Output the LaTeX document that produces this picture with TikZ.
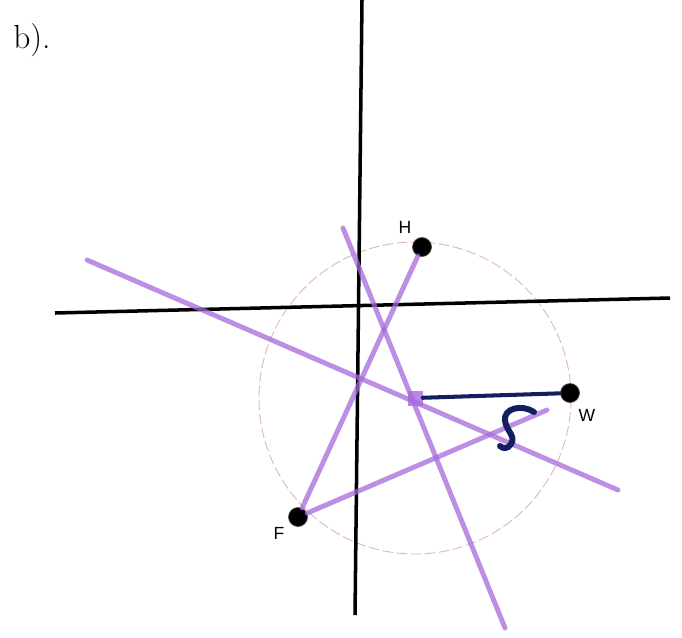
\documentclass[tikz,border=0pt]{standalone}
\usepackage{fontspec}
\setsansfont{Liberation Sans}
\definecolor{bisect}{RGB}{165,105,220}
\definecolor{marker}{RGB}{20,30,95}
\definecolor{pencil}{RGB}{225,180,180}
\begin{document}
\begin{tikzpicture}[x=0.02cm, y=-0.02cm,
          axis/.style={draw=black, line width=2pt},
          perp/.style={draw=bisect, line width=2.8pt, opacity=0.75, line cap=round},
          rad/.style={draw=marker, line width=2.3pt, line cap=round},
          pt/.style={circle, fill=black, draw=black!70, inner sep=0pt, minimum size=0.38cm},
          ctr/.style={rectangle, fill=bisect, opacity=0.8, inner sep=0pt, minimum size=0.3cm},
          lbl/.style={font=\sffamily\fontsize{10}{12}\selectfont, inner sep=1pt}]
        \useasboundingbox (0,0) rectangle (682,637);
        % faint pencil circle through H, W, F
        \draw[pencil, line width=0.5pt, dashed, dash pattern=on 6pt off 2pt] (415,398) circle (156);
        % axes
        \coordinate (yt) at (362,0);
        \coordinate (yb) at (355,615);
        \coordinate (xl) at (55,313);
        \coordinate (xr) at (670,298);
        \draw[axis] (yt) -- (yb);
        \draw[axis] (xl) -- (xr);
        % the three points and the centre
        \node[pt] (H) at (422,247) {};
        \node[pt] (W) at (570,393) {};
        \node[pt] (F) at (298,517) {};
        \node[ctr] (O) at (415,398) {};
        \node[lbl] (Hl) at (405,227) {H};
        \node[lbl] (Wl) at (587,415) {W};
        \node[lbl] (Fl) at (279,533) {F};
        % bisectors and chords
        \coordinate (a1) at (87,260);
        \coordinate (a2) at (618,490);
        \coordinate (b1) at (343,228);
        \coordinate (b2) at (505,628);
        \coordinate (c2) at (547,410);
        \draw[perp] (a1) -- (a2);
        \draw[perp] (b1) -- (b2);
        \draw[perp] (H) -- (F);
        \draw[perp] (F) -- (c2);
        % radius and the hand mark
        \draw[rad] (O) -- (W);
        \draw[rad, line width=3.4pt] (534,412) .. controls (522,404) and (503,408) .. (505,421)
          .. controls (507,432) and (516,436) .. (511,444) .. controls (508,449) and (503,449) .. (500,446);
        \node[font=\fontsize{19}{22}\selectfont, anchor=west, inner sep=0pt] (tag) at (13,40) {b).};
      \end{tikzpicture}
\end{document}
